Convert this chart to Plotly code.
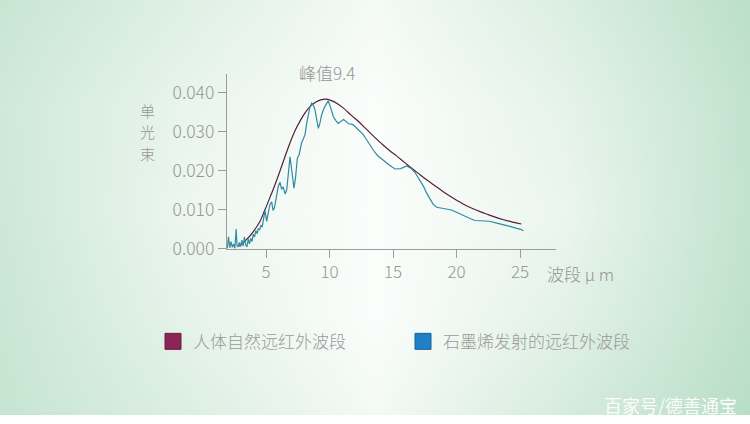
import plotly.graph_objects as go

# human body natural far-infrared band (smooth curve)
body_x = [2.9, 3.3, 3.7, 4.1, 4.5, 4.9, 5.3, 5.7, 6.1, 6.5, 6.9, 7.3, 7.7, 8.1, 8.5, 8.9,
          9.3, 9.7, 10.1, 10.6, 11.1, 11.7, 12.3, 12.9, 13.5, 14.1, 14.7, 15.3, 15.9, 16.5,
          17.1, 17.7, 18.3, 18.9, 19.5, 20.1, 20.7, 21.3, 21.9, 22.5, 23.1, 23.7, 24.4, 25.1]
body_y = [0.0006, 0.0018, 0.0031, 0.0048, 0.0068, 0.0098, 0.0130, 0.0163, 0.0199, 0.0236,
          0.0272, 0.0303, 0.0328, 0.0349, 0.0365, 0.0375, 0.0381, 0.0383, 0.0380, 0.0372,
          0.0360, 0.0342, 0.0325, 0.0306, 0.0287, 0.0269, 0.0252, 0.0237, 0.0221, 0.0205,
          0.0190, 0.0175, 0.0161, 0.0147, 0.0134, 0.0122, 0.0111, 0.0102, 0.0094, 0.0087,
          0.0080, 0.0074, 0.0068, 0.0063]

# far-infrared emitted by graphene (measured, noisy)
graph_x = [1.95, 2.05, 2.15, 2.25, 2.35, 2.45, 2.55, 2.65, 2.72, 2.8, 2.9, 3.0, 3.1, 3.2, 3.3,
           3.4, 3.5, 3.6, 3.7, 3.8, 3.9, 4.0, 4.1, 4.2, 4.3, 4.4, 4.5, 4.6, 4.7, 4.8, 4.92,
           5.05, 5.15, 5.3, 5.45, 5.55, 5.66, 5.8, 5.97, 6.1, 6.23, 6.35, 6.5, 6.63, 6.75,
           6.89, 7.05, 7.2, 7.32, 7.47, 7.6, 7.81, 7.95, 8.07, 8.2, 8.33, 8.45, 8.6, 8.73,
           8.86, 9.0, 9.12, 9.25, 9.38, 9.6, 9.9, 10.1, 10.3, 10.5, 10.7, 10.9, 11.1, 11.3,
           11.5, 11.7, 11.87, 12.07, 12.27, 12.66, 13.0, 13.45, 13.8, 14.24, 14.7, 15.16,
           15.6, 16.08, 16.4, 16.73, 17.05, 17.39, 17.65, 17.9, 18.15, 18.44, 18.8, 19.23,
           19.6, 20.0, 20.5, 21.06, 21.45, 21.85, 22.2, 22.6, 23.1, 23.7, 24.2, 24.74, 25.0,
           25.26]
graph_y = [0.0, 0.0030, 0.0002, 0.0018, 0.0003, 0.0012, 0.0000, 0.0050, 0.0008, 0.0004,
           0.0016, 0.0005, 0.0022, 0.0006, 0.0030, 0.0010, 0.0004, 0.0024, 0.0012, 0.0026,
           0.0018, 0.0037, 0.0030, 0.0046, 0.0038, 0.0052, 0.0048, 0.0060, 0.0055, 0.0072,
           0.0098, 0.0070, 0.0085, 0.0112, 0.0120, 0.0098, 0.0104, 0.0135, 0.0160, 0.0170,
           0.0152, 0.0158, 0.0140, 0.0150, 0.0185, 0.0235, 0.0195, 0.0155, 0.0180, 0.0232,
           0.0240, 0.0272, 0.0282, 0.0292, 0.0320, 0.0345, 0.0362, 0.0373, 0.0368, 0.0355,
           0.0325, 0.0308, 0.0322, 0.0343, 0.0362, 0.0379, 0.0360, 0.0338, 0.0328, 0.0321,
           0.0326, 0.0331, 0.0326, 0.0320, 0.0319, 0.0317, 0.0311, 0.0304, 0.0292, 0.0275,
           0.0252, 0.0238, 0.0226, 0.0214, 0.0204, 0.0205, 0.0212, 0.0206, 0.0195, 0.0178,
           0.0160, 0.0142, 0.0126, 0.0114, 0.0106, 0.0104, 0.0103, 0.0099, 0.0093, 0.0085,
           0.0077, 0.0072, 0.0071, 0.0071, 0.0070, 0.0066, 0.0062, 0.0057, 0.0052, 0.0050,
           0.0046]

x_ticks = [5, 10, 15, 20, 25]
y_ticks = [0.0, 0.01, 0.02, 0.03, 0.04]
series_names = ["人体自然远红外波段", "石墨烯发射的远红外波段"]
peak_label = "峰值9.4"
y_title_chars = ["单", "光", "束"]

# background tint grid (0 = white, 1 = green), rows bottom -> top
bg_cols = [0, 0.25, 0.5, 0.75, 1]
bg_rows = [0, 0.25, 0.5, 0.75, 1]
bg_tint = [[0.75, 0.45, 0.12, 0.55, 0.95],
           [0.70, 0.30, 0.00, 0.35, 0.85],
           [0.65, 0.20, 0.00, 0.22, 0.80],
           [0.62, 0.25, 0.00, 0.30, 0.80],
           [0.72, 0.40, 0.10, 0.45, 0.90]]

# the page renders the figure ~12px shorter than asked, so ask a bit more
W, H = 750, 424
FONT = "Noto Sans CJK SC, Noto Sans, sans-serif"
GRAY = "#969696"
AXIS = "#9c9c9c"
MAROON = "#552039"
BLUE = "#3389a3"

fig = go.Figure()

fig.add_trace(go.Heatmap(x=bg_cols, y=bg_rows, z=bg_tint, zsmooth="best",
                         colorscale=[[0, "#fbfdfb"], [1, "#b4dcc3"]], zmin=0, zmax=1,
                         showscale=False, hoverinfo="skip", xaxis="x", yaxis="y"))

fig.add_trace(go.Scatter(x=body_x, y=body_y, mode="lines", line=dict(color=MAROON, width=1.2),
                         line_shape="spline", showlegend=False, xaxis="x2", yaxis="y2"))
fig.add_trace(go.Scatter(x=graph_x, y=graph_y, mode="lines", line=dict(color=BLUE, width=1.2),
                         showlegend=False, xaxis="x2", yaxis="y2"))

# legend entries as squares
for name, col, edge in zip(series_names, ["#8d2458", "#1f80c6"], ["#6e1a44", "#17629a"]):
    fig.add_trace(go.Scatter(x=[None], y=[None], mode="markers", name=name,
                             marker=dict(symbol="square", size=18, color=col,
                                         line=dict(color=edge, width=1)),
                             xaxis="x2", yaxis="y2"))

annos = [
    dict(text=peak_label, x=9.4, xref="x2", y=1 - 72 / H, yref="paper", xshift=5,
         xanchor="center", yanchor="middle",
         showarrow=False, font=dict(size=17, color=GRAY, weight=300)),
    dict(text="波段 μ m", x=545 / W, y=1 - 273 / H, xref="paper", yref="paper",
         xanchor="left", yanchor="middle", showarrow=False,
         font=dict(size=17, color=GRAY, weight=300)),
    dict(text="百家号/德善通宝", x=739 / W, y=1 - 404 / H, xref="paper", yref="paper",
         xanchor="right", yanchor="middle", showarrow=False,
         font=dict(size=18, color="rgba(255,255,255,0.95)")),
]
# vertical axis title, one character per line
for i, ch in enumerate(y_title_chars):
    annos.append(dict(text=ch, x=147 / W, y=1 - (110 + 21.5 * i) / H, xref="paper",
                      yref="paper", xanchor="center", yanchor="middle", showarrow=False,
                      font=dict(size=15, color=GRAY, weight=300)))

fig.update_layout(
    width=W, height=H + 12,
    margin=dict(l=0, r=0, t=0, b=0),
    paper_bgcolor="white",
    plot_bgcolor="rgba(0,0,0,0)",
    font=dict(family=FONT, color=GRAY),
    xaxis=dict(domain=[0, 1], range=[0, 1], visible=False, fixedrange=True),
    yaxis=dict(domain=[0, 1], range=[0, 1], visible=False, fixedrange=True),
    xaxis2=dict(domain=[227 / W, 556 / W], range=[1.93, 27.83], anchor="y2",
                showline=True, linecolor=AXIS, linewidth=1.3, showgrid=False, zeroline=False,
                ticks="outside", ticklen=8, tickcolor=AXIS, tickwidth=1.3,
                tickvals=x_ticks, ticklabelstandoff=0,
                tickfont=dict(size=17, color=GRAY, family=FONT, weight=300)),
    yaxis2=dict(domain=[1 - 248 / H, 1 - 74 / H], range=[0, 0.0447], anchor="x2",
                showline=True, linecolor=AXIS, linewidth=1.3, showgrid=False, zeroline=False,
                ticks="outside", ticklen=8, tickcolor=AXIS, tickwidth=1.3,
                tickvals=y_ticks, tickformat=".3f",
                tickfont=dict(size=17.5, color=GRAY, family=FONT, weight=300)),
    legend=dict(orientation="h", x=153 / W, xanchor="left", y=1 - 341 / H, yanchor="middle",
                entrywidth=205, bgcolor="rgba(0,0,0,0)", itemsizing="trace",
                font=dict(size=17, color="#9a9a9a", family=FONT, weight=300)),
    shapes=[dict(type="rect", xref="paper", yref="paper", x0=0, x1=1, y0=0, y1=10 / H,
                 fillcolor="white", line=dict(width=0), layer="above")],
    annotations=annos,
)

fig.write_html("out.html", config=dict(displayModeBar=False),
               post_script="document.body.style.margin='0px';")
